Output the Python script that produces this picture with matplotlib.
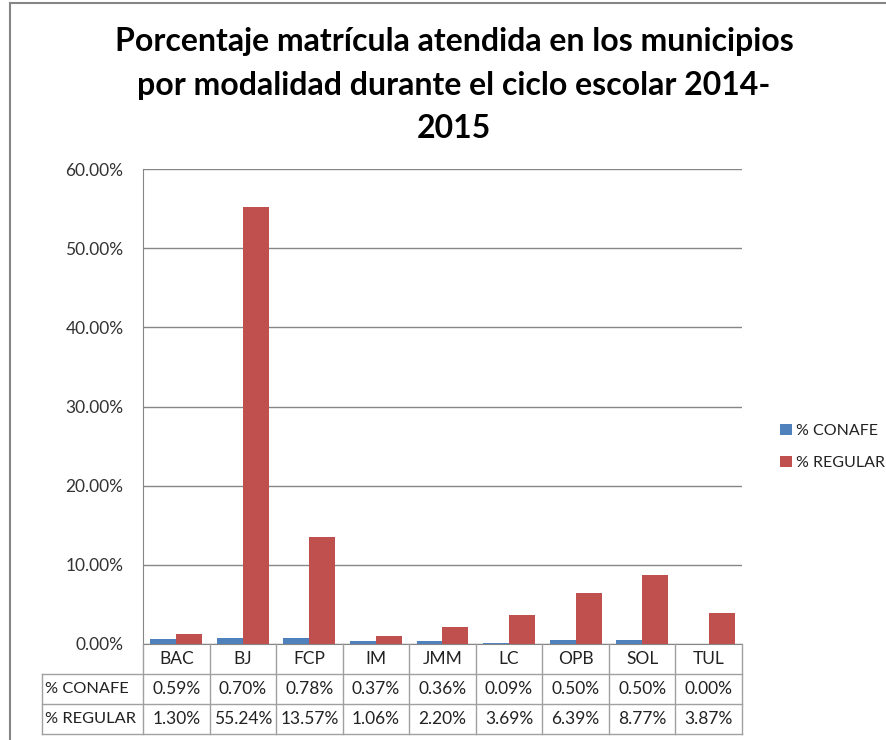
import matplotlib.pyplot as plt
import numpy as np
from matplotlib.lines import Line2D

plt.rcParams['font.family'] = ['Lato', 'DejaVu Sans']

categories = ['BAC', 'BJ', 'FCP', 'IM', 'JMM', 'LC', 'OPB', 'SOL', 'TUL']
conafe = [0.59, 0.70, 0.78, 0.37, 0.36, 0.09, 0.50, 0.50, 0.00]
regular = [1.30, 55.24, 13.57, 1.06, 2.20, 3.69, 6.39, 8.77, 3.87]
series_names = ['% CONAFE', '% REGULAR']
title = 'Porcentaje matrícula atendida en los municipios\npor modalidad durante el ciclo escolar 2014-\n2015'

W, H = 887, 740
fig = plt.figure(figsize=(W / 100, H / 100), dpi=100)

def fx(px):
    return px / W

def fy(py):
    return 1 - py / H

x0, x1, y0, y1 = 143, 742, 169, 644
ax = fig.add_axes([fx(x0), fy(y1), fx(x1) - fx(x0), fy(y0) - fy(y1)])

x = np.arange(len(categories))
bw = 0.39
ax.bar(x - bw / 2, conafe, bw, color='#4F81BD', label=series_names[0], zorder=3)
ax.bar(x + bw / 2, regular, bw, color='#C0504D', label=series_names[1], zorder=3)

fs = 12.5
ax.set_xlim(-0.5, len(categories) - 0.5)
ax.set_ylim(0, 60)
ax.set_yticks(np.arange(0, 61, 10))
ax.set_yticklabels(['%.2f%%' % v for v in np.arange(0, 61, 10)], fontsize=fs, color='#333333')
ax.set_xticks([])
ax.yaxis.grid(True, color='#868686', linewidth=1, zorder=0)
ax.tick_params(axis='y', length=0, pad=14)
for s in ['top', 'right']:
    ax.spines[s].set_visible(False)
ax.spines['left'].set_color('#868686')
ax.spines['bottom'].set_color('#868686')

# data table below the plot
lc = '#A0A0A0'
row_y = [644, 674, 704, 734]
col_x = [x0 + i * (x1 - x0) / len(categories) for i in range(len(categories) + 1)]
lab_x = 42

def hline(py, xa, xb):
    fig.add_artist(Line2D([fx(xa), fx(xb)], [fy(py), fy(py)], color=lc, lw=1))

def vline(px, ya, yb):
    fig.add_artist(Line2D([fx(px), fx(px)], [fy(ya), fy(yb)], color=lc, lw=1))

hline(row_y[1], lab_x, x1)
hline(row_y[2], lab_x, x1)
hline(row_y[3], lab_x, x1)
for cx in col_x:
    vline(cx, row_y[0], row_y[3])
vline(lab_x, row_y[1], row_y[3])

tc = '#222222'
for i, c in enumerate(categories):
    cx = (col_x[i] + col_x[i + 1]) / 2
    fig.text(fx(cx), fy((row_y[0] + row_y[1]) / 2), c, ha='center', va='center', fontsize=fs, color=tc)
    fig.text(fx(cx), fy((row_y[1] + row_y[2]) / 2), '%.2f%%' % conafe[i], ha='center', va='center', fontsize=fs, color=tc)
    fig.text(fx(cx), fy((row_y[2] + row_y[3]) / 2), '%.2f%%' % regular[i], ha='center', va='center', fontsize=fs, color=tc)
for j, name in enumerate(series_names):
    fig.text(fx(lab_x + 3), fy((row_y[j + 1] + row_y[j + 2]) / 2), name, ha='left', va='center', fontsize=11.8, color=tc)

fig.text(fx(454), fy(85), title, ha='center', va='center', fontsize=23,
         fontweight='bold', linespacing=1.6)

leg = fig.legend(loc='center left', bbox_to_anchor=(fx(766), fy(447)), frameon=False,
                 fontsize=11.5, handlelength=0.7, handleheight=0.7, handletextpad=0.3,
                 labelspacing=1.1)
for t in leg.get_texts():
    t.set_color(tc)

# outer chart border
fig.add_artist(Line2D([fx(10), fx(10)], [fy(3), 0], color='#868686', lw=1.5))
fig.add_artist(Line2D([fx(10), 1], [fy(3), fy(3)], color='#868686', lw=1.5))

fig.savefig('out.png', dpi=100)
